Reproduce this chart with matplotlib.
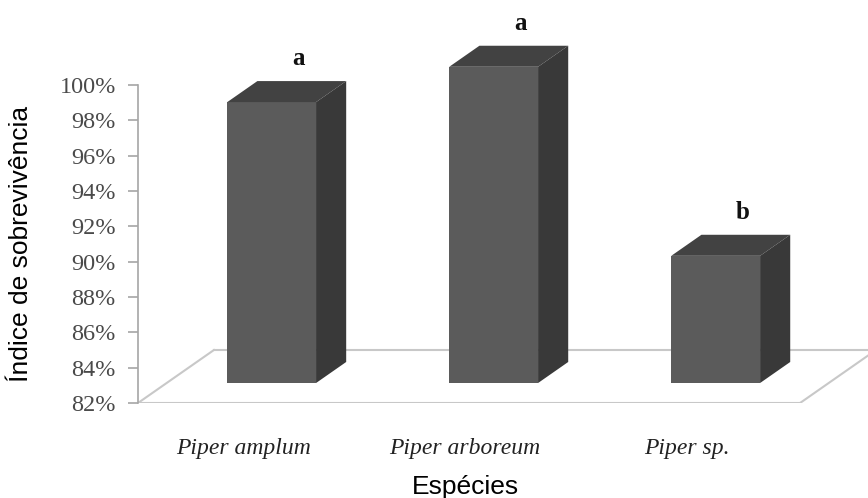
import numpy as np
import matplotlib
matplotlib.use('Agg')
import matplotlib.pyplot as plt
from matplotlib.patches import Polygon

# data
species = ['Piper amplum', 'Piper arboreum', 'Piper sp.']
survival = [97.9, 99.9, 89.2]   # %
letters = ['a', 'a', 'b']
yticks = list(range(82, 101, 2))

# 3d look: depth offsets in data units
DX, DY = 0.342, 3.0        # full floor depth
f0, f1 = 0.377, 0.774       # front / back of the bars inside the floor
w = 0.40
ymin = 82

front_c = '#5b5b5b'
top_c = '#424242'
side_c = '#393939'
floor_c = '#c8c8c8'

fig = plt.figure(figsize=(8.68, 4.98), dpi=100)
ax = fig.add_axes([138/868, 95/498, 730/868, 318/498])
ax.set_xlim(-0.473, 2.815)
ax.set_ylim(ymin, 100)

x = np.arange(len(species))

# floor (parallelogram)
xl, xr = ax.get_xlim()
xr_front = 2.509
ax.plot([xl, xr_front], [ymin, ymin], color=floor_c, lw=1.5, zorder=1)
ax.plot([xl + DX, xr + 1], [ymin + DY, ymin + DY], color=floor_c, lw=1.5, zorder=1)
ax.plot([xl, xl + DX], [ymin, ymin + DY], color=floor_c, lw=1.5, zorder=1)
ax.plot([xr_front, xr_front + DX], [ymin, ymin + DY], color=floor_c, lw=1.5, zorder=1)

# bars
cx = x + f0 * DX
ddx = (f1 - f0) * DX
ddy = (f1 - f0) * DY
heights = np.array(survival) - ymin
bars = ax.bar(cx, heights, width=w, bottom=ymin + f0 * DY, color=front_c, zorder=3)
for b in bars:
    b.set_clip_on(False)
for c, v, lab in zip(cx, survival, letters):
    yt = v + f0 * DY
    yb = ymin + f0 * DY
    top = Polygon([(c - w/2, yt), (c + w/2, yt), (c + w/2 + ddx, yt + ddy), (c - w/2 + ddx, yt + ddy)],
                  closed=True, facecolor=top_c, edgecolor='none', zorder=3, clip_on=False)
    side = Polygon([(c + w/2, yb), (c + w/2, yt), (c + w/2 + ddx, yt + ddy), (c + w/2 + ddx, yb + ddy)],
                   closed=True, facecolor=side_c, edgecolor='none', zorder=3, clip_on=False)
    ax.add_patch(top)
    ax.add_patch(side)
    ax.text(c + ddx * 0.9, yt + ddy + 1.25, lab, ha='center', va='center',
            family='Liberation Serif', fontweight='bold', fontsize=18, color='#111111', clip_on=False)

# axes styling
for s in ['top', 'right', 'bottom']:
    ax.spines[s].set_visible(False)
ax.spines['left'].set_color('#a6a6a6')
ax.spines['left'].set_linewidth(1.2)

ax.set_yticks(yticks)
ax.set_yticklabels([f'{t}%' for t in yticks], family='Liberation Serif', fontsize=17.5, color='#4a4a4a')
ax.tick_params(axis='y', length=7, width=1.2, color='#a6a6a6', pad=9)

ax.set_xticks(x)
ax.set_xticklabels(species, family='Liberation Serif', fontstyle='italic', fontsize=17, color='#222222')
ax.tick_params(axis='x', length=0, pad=25)

ax.set_xlabel('Espécies', family='Liberation Sans', fontsize=19, color='black')
ax.xaxis.set_label_coords(0.449, -0.225)
ax.set_ylabel('Índice de sobrevivência', family='Liberation Sans', fontsize=19, color='black')
ax.yaxis.set_label_coords(-0.144, 0.5)

fig.savefig('out.png', dpi=100)
